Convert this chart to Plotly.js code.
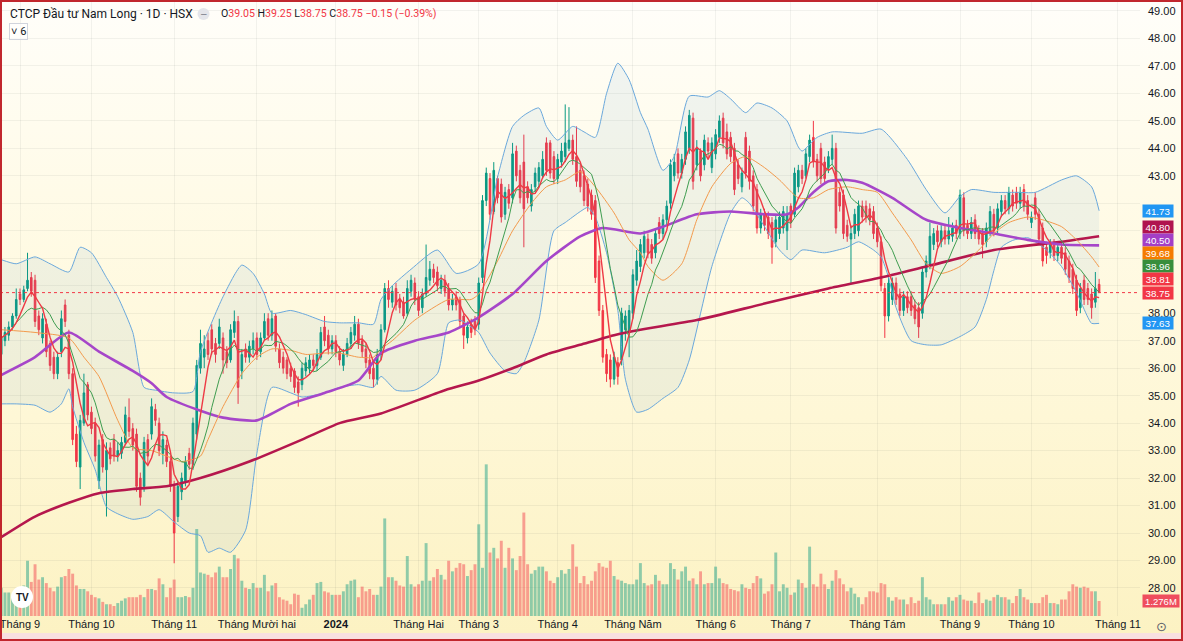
<!DOCTYPE html>
<html><head><meta charset="utf-8">
<script src="https://cdn.plot.ly/plotly-3.0.1.min.js"></script>
<style>
html,body{margin:0;padding:0;width:1183px;height:641px;overflow:hidden;}
#wrap{position:relative;width:1183px;height:641px;background:linear-gradient(to bottom,#fffefa 0%,#fffbe8 30%,#fef7d6 65%,#fcf2c2 100%);}
#chart{position:absolute;left:0;top:0;width:1183px;height:641px;}
#strip{position:absolute;left:0;top:633px;width:1183px;height:8px;background:#f8e0e0;}
#frame{position:absolute;left:0;top:0;width:1183px;height:641px;box-sizing:border-box;border:2px solid #c1272d;pointer-events:none;}
</style></head>
<body><div id="wrap"><div id="chart"></div><div id="strip"></div><div id="frame"></div></div>
<script>
// ---------- DATA ----------
const open = [
36.5,37.0,37.2,37.5,37.9,38.7,38.5,38.9,39.3,39.2,
37.9,37.1,37.6,36.9,36.4,35.8,36.6,38.3,37.2,35.8,
33.6,32.4,34.0,35.4,34.4,34.0,31.9,33.4,32.3,33.1,
33.4,32.8,32.9,33.3,34.2,33.8,33.6,32.0,31.7,33.4,
33.6,34.5,34.0,32.9,33.2,32.6,31.7,30.6,31.5,31.9,
32.9,32.5,33.6,36.0,36.4,37.0,37.4,36.9,36.9,37.1,
36.6,36.3,37.3,37.7,35.9,36.7,36.4,36.7,37.1,36.6,
37.1,37.8,37.2,37.9,36.7,36.4,36.3,36.0,35.9,35.5,
35.4,35.9,36.0,36.3,36.1,36.4,37.5,37.2,36.7,37.0,
36.6,36.1,36.5,36.9,37.2,37.6,37.0,36.7,36.3,36.0,
35.6,36.5,37.4,38.9,38.4,38.9,38.5,38.4,38.0,38.8,
39.1,38.6,38.2,38.7,39.2,39.6,39.5,38.9,39.2,38.9,
38.3,38.6,38.5,37.9,37.1,37.6,37.7,37.6,39.3,42.1,
42.9,41.7,42.9,42.7,41.6,42.5,42.2,43.9,43.2,43.5,
42.6,41.9,42.6,42.8,43.0,44.2,44.2,43.7,42.9,43.5,
43.7,44.0,44.3,43.7,43.2,43.0,42.7,42.3,42.1,39.9,
38.1,36.5,36.3,35.6,36.2,36.3,37.4,37.3,38.0,39.2,
39.7,40.2,40.7,40.5,40.2,41.3,40.9,41.4,42.0,43.0,
43.8,43.1,43.6,44.0,45.1,43.4,43.9,43.4,44.2,43.3,
43.8,44.4,45.1,44.6,44.4,44.0,43.4,42.6,44.4,43.9,
43.0,42.5,41.1,41.6,41.5,41.3,40.6,40.9,41.1,41.0,
41.9,41.6,42.6,43.2,43.0,43.7,44.4,43.6,44.0,43.5,
43.3,43.6,44.0,42.4,42.3,41.2,40.7,40.9,41.0,41.9,
41.9,41.8,41.7,41.1,40.6,38.9,37.9,38.5,39.1,38.7,
38.1,38.6,38.6,38.3,38.2,38.0,39.5,39.8,40.5,41.0,
40.6,41.0,40.7,40.8,41.2,40.9,42.2,41.2,40.9,41.4,
41.0,40.9,40.6,41.0,41.6,41.1,41.7,42.1,41.8,42.3,
42.4,42.0,42.5,42.1,41.3,42.2,41.6,41.1,40.4,40.2,
40.5,40.1,40.4,40.2,39.9,39.6,39.2,38.2,39.2,38.9,
38.7,38.4,39.05];
const high = [
37.4,37.5,37.7,38.0,38.9,38.9,39.0,40.2,39.5,39.4,
38.1,38.0,37.8,37.0,36.6,36.6,38.1,38.5,37.4,36.0,
33.9,34.3,35.8,35.5,34.6,34.2,33.4,33.6,33.3,33.3,
33.6,33.3,33.5,34.6,34.9,34.0,33.8,32.2,33.5,33.6,
34.9,34.7,34.2,33.7,33.4,32.8,31.9,31.9,32.2,32.8,
33.1,34.2,36.3,37.4,37.2,37.3,37.6,37.1,37.8,37.3,
36.8,37.6,38.1,37.9,36.7,36.9,37.0,37.3,37.3,37.3,
38.0,38.0,38.1,38.0,36.9,36.6,36.4,36.2,36.0,35.7,
36.2,36.4,36.5,36.5,36.7,37.5,37.9,37.4,37.2,37.2,
36.8,36.7,37.1,37.5,37.9,37.8,37.2,36.9,36.5,36.2,
36.7,37.6,39.1,39.2,39.0,39.1,38.7,38.6,39.2,39.4,
39.3,38.8,38.9,40.5,39.9,39.8,39.7,39.4,39.4,39.1,
38.7,38.8,38.6,38.0,37.7,37.8,37.9,39.3,42.3,43.3,
43.1,43.5,43.0,42.9,42.6,42.7,44.2,44.1,43.4,44.5,
42.8,42.7,43.3,43.5,43.9,44.4,44.3,43.9,43.8,44.2,
45.6,45.5,44.5,44.8,43.4,43.2,42.9,42.5,42.3,40.1,
38.3,36.7,36.5,36.6,36.4,38.2,38.1,38.3,39.6,40.3,
40.7,41.0,40.9,40.7,41.1,41.5,41.6,42.1,43.6,43.8,
44.0,43.8,44.8,45.4,45.3,44.3,44.0,44.5,44.4,44.4,
44.7,45.2,45.3,44.9,44.6,44.2,43.6,43.3,44.6,44.1,
43.2,42.7,41.8,41.8,41.7,41.5,41.6,41.7,41.9,41.9,
42.0,43.3,43.4,43.4,44.0,44.5,45.0,43.8,44.2,43.7,
43.9,44.5,44.2,42.6,42.5,41.4,41.2,41.8,42.1,42.1,
42.1,42.0,41.9,41.3,40.8,39.1,39.3,39.3,39.3,38.9,
38.8,38.8,38.8,38.5,38.4,39.7,40.1,41.3,41.1,41.2,
41.2,41.2,41.5,41.3,41.4,42.5,42.4,41.4,41.5,41.6,
41.2,41.1,41.3,41.9,41.8,42.0,42.3,42.3,42.6,42.5,
42.6,42.6,42.7,42.3,41.7,42.4,41.8,41.3,40.6,40.7,
40.7,40.6,40.6,40.4,40.1,39.8,39.4,39.1,39.4,39.1,
38.9,39.5,39.25];
const low = [
36.3,36.8,37.0,37.4,37.8,38.3,38.4,38.8,38.6,37.5,
37.2,36.9,36.4,35.9,35.6,35.6,36.4,37.5,35.6,33.2,
32.4,31.6,33.9,34.1,33.6,32.6,31.6,32.2,30.6,32.5,
32.6,32.6,32.7,33.2,33.5,33.0,31.5,31.0,31.5,32.5,
33.4,33.9,32.8,32.5,32.4,31.5,28.9,30.4,31.2,31.7,
32.3,32.3,33.4,35.8,36.0,36.3,36.5,36.2,36.7,35.8,
36.0,36.2,37.1,34.7,35.6,36.2,36.2,36.5,36.3,36.4,
37.0,37.0,37.0,36.6,36.0,35.8,35.6,35.5,35.1,34.6,
35.2,35.7,35.8,35.9,35.9,36.3,36.8,36.5,36.5,36.4,
36.1,35.9,36.4,36.7,37.0,36.7,36.4,36.0,35.6,35.3,
35.4,36.3,37.3,38.2,38.2,38.1,38.0,37.8,37.9,38.6,
38.3,37.9,38.0,38.6,39.0,39.1,38.8,38.7,38.6,38.1,
38.1,38.1,37.5,36.7,36.9,37.1,37.2,37.4,39.1,41.9,
41.4,41.6,42.0,41.3,41.4,41.8,42.0,42.8,42.0,40.4,
42.0,41.7,42.4,42.6,42.9,43.0,42.9,42.7,42.7,43.3,
43.5,43.9,43.4,42.6,42.4,41.9,41.7,41.4,39.1,37.9,
36.2,35.5,35.3,35.4,35.4,36.1,37.0,36.4,37.8,39.0,
39.5,40.0,40.0,39.8,40.0,40.7,40.7,41.2,41.8,42.8,
42.9,42.9,43.4,43.8,42.5,43.2,42.8,43.2,43.6,43.1,
43.6,44.2,44.0,43.6,43.5,42.3,42.7,42.4,42.9,42.5,
41.7,40.9,40.9,41.0,40.7,39.8,40.4,40.7,40.9,40.3,
41.1,41.5,42.4,42.7,42.9,43.5,43.3,42.8,42.7,42.7,
43.1,43.4,40.9,41.7,40.7,40.6,39.1,40.7,40.8,41.3,
41.3,41.2,40.7,40.4,38.8,37.1,37.7,38.3,38.3,37.9,
37.9,38.0,37.9,37.6,37.1,37.8,39.3,39.6,40.3,40.4,
40.4,40.5,40.5,40.6,40.7,40.7,40.8,40.7,40.7,40.7,
40.5,40.0,40.4,40.8,40.8,40.9,41.5,41.6,41.6,41.7,
41.8,41.8,41.7,41.4,41.1,41.4,40.5,39.7,39.8,40.0,
39.9,39.9,39.8,39.4,39.1,38.7,37.9,38.0,38.3,38.3,
37.8,38.2,38.75];
const close = [
37.1,37.3,37.5,37.9,38.5,38.5,38.85,39.2,38.8,37.7,
37.4,37.8,36.6,36.1,35.8,36.4,37.8,37.7,35.8,33.4,
32.6,34.1,35.1,34.3,33.8,32.8,33.2,32.4,33.0,32.7,
32.8,33.0,33.3,34.3,33.7,33.2,31.7,31.3,33.3,32.8,
34.6,34.1,33.0,33.4,32.6,31.7,30.0,31.7,32.0,32.6,
32.5,34.0,36.1,36.9,36.7,36.5,36.7,36.5,37.5,36.3,
36.2,37.4,37.7,35.3,36.5,36.4,36.8,37.0,36.5,37.1,
37.7,37.2,37.8,36.8,36.2,36.0,35.8,35.7,35.3,35.1,
36.0,36.2,36.3,36.1,36.5,37.3,37.0,36.7,37.0,36.6,
36.3,36.5,36.9,37.3,37.6,36.9,36.6,36.2,35.8,35.6,
36.5,37.4,38.9,38.5,38.8,38.3,38.2,37.9,38.9,39.2,
38.5,38.1,38.7,39.3,39.6,39.3,39.0,39.2,38.8,38.3,
38.5,38.3,37.7,37.2,37.5,37.3,37.4,39.1,42.1,43.1,
41.6,43.2,42.2,41.5,42.4,42.0,43.8,43.0,42.2,41.8,
42.2,42.5,43.1,43.3,43.6,43.2,43.1,42.9,43.6,43.9,
44.2,44.3,43.6,42.8,42.6,42.1,41.9,41.6,39.3,38.1,
36.4,35.8,35.6,36.4,35.7,38.0,37.9,38.1,39.4,39.9,
40.5,40.8,40.2,40.0,40.9,40.9,41.4,41.9,43.4,43.5,
43.1,43.6,44.6,45.2,42.8,44.0,43.0,44.3,43.9,44.2,
44.5,45.0,44.2,43.8,43.7,42.5,42.9,43.1,43.1,42.8,
41.9,41.1,41.6,41.2,40.9,40.4,41.4,41.5,41.7,41.6,
41.3,43.1,43.2,42.9,43.8,44.3,43.5,43.0,42.9,42.9,
43.7,44.0,41.1,41.9,40.9,40.8,40.9,41.6,41.9,41.5,
41.5,41.4,40.9,40.6,39.0,37.9,39.1,39.1,38.5,38.1,
38.6,38.2,38.1,37.8,37.5,39.5,39.9,40.8,40.9,40.6,
41.0,40.7,41.0,41.1,40.9,42.3,41.0,40.9,41.3,40.9,
40.7,40.5,41.1,41.7,41.0,41.8,42.1,41.8,42.4,41.9,
42.0,42.4,41.9,41.6,41.5,41.6,40.7,39.9,40.1,40.5,
40.1,40.4,40.0,39.6,39.3,38.9,38.1,38.9,38.5,38.5,
38.2,38.9,38.75];
// volume, millions of shares
const volume = [
2.4,2.0,2.0,1.7,1.9,2.2,2.6,4.7,2.9,4.4,
3.1,3.3,2.8,2.4,2.1,2.5,3.3,3.4,4.0,3.6,
2.6,2.3,2.3,2.1,1.8,1.6,1.5,1.2,1.0,1.0,
0.85,1.1,1.3,1.5,1.6,1.6,1.6,1.8,1.6,2.3,
2.3,2.2,3.2,2.7,1.6,2.4,3.1,1.6,1.6,1.7,
1.6,2.4,7.4,3.7,3.6,3.5,3.3,3.7,4.2,3.3,
3.3,4.0,5.2,4.9,3.0,2.4,2.3,2.8,2.4,2.4,
3.5,2.1,2.6,2.8,1.6,1.4,1.3,1.0,1.9,1.8,
0.7,1.0,1.4,1.8,2.8,2.9,2.1,2.0,1.8,1.8,
1.8,2.1,2.7,3.0,3.1,1.6,2.5,2.1,2.3,1.8,
1.8,2.5,8.3,3.3,3.3,3.0,2.6,2.5,5.1,2.7,
2.5,2.7,3.0,6.2,3.0,3.3,4.0,3.5,3.1,4.7,
3.8,4.1,4.5,4.4,3.4,3.9,4.4,7.8,4.1,12.9,
5.4,5.8,4.9,6.4,4.1,5.8,4.9,3.9,5.1,8.8,
4.4,3.6,3.9,4.2,4.2,3.8,3.0,2.8,3.3,3.9,
3.6,4.0,6.1,4.2,2.8,3.4,2.7,3.0,3.8,4.5,
4.2,4.1,4.7,3.4,3.1,3.0,2.8,2.7,2.7,3.1,
4.5,2.8,2.6,2.7,3.5,3.0,2.7,2.7,4.5,4.0,
3.1,3.8,4.2,3.0,3.2,2.7,3.8,2.7,2.8,2.8,
4.2,3.2,2.8,2.7,2.3,2.2,2.1,2.7,2.4,2.3,
2.8,3.4,3.2,1.9,2.1,2.7,5.4,2.1,2.7,2.4,
1.8,2.0,3.1,2.8,2.4,5.9,2.7,2.5,3.6,2.7,
2.3,3.0,3.9,3.2,2.7,2.1,2.4,1.9,1.6,1.0,
1.6,2.1,2.1,2.0,2.8,2.7,1.6,1.3,1.6,1.4,
1.4,1.0,1.6,1.1,1.3,3.3,1.6,1.4,1.0,1.0,
1.0,1.0,1.6,1.3,1.6,1.8,1.4,1.3,1.3,1.1,
2.0,1.1,1.4,1.3,1.6,1.8,1.6,1.6,1.4,1.1,
1.7,2.3,1.6,1.4,1.1,1.1,1.1,1.6,1.8,1.1,
1.1,1.0,1.4,1.4,2.1,2.7,2.5,2.4,2.5,2.4,
2.1,2.1,1.276];

// indicator lines (bar index, value)
const ma200Idx = [0,9,18,26,35,44,53,66,80,90,101,118,127,136,145,154,163,170,185,203,220,234,246,264,282,292];
const ma200Val = [29.85,30.6,31.1,31.45,31.6,31.7,32.0,32.6,33.4,34.0,34.35,35.2,35.55,36.0,36.5,36.85,37.2,37.4,37.75,38.35,38.9,39.3,39.7,40.3,40.6,40.8];
const ma50Idx = [0,9,18,26,35,40,44,53,59,68,77,86,95,101,110,119,127,136,145,154,160,170,176,185,194,203,209,212,216,220,225,229,237,246,255,264,273,282,292];
const ma50Val = [35.75,36.4,37.3,36.6,35.9,35.45,34.95,34.45,34.2,34.1,34.7,35.1,35.55,36.55,37.0,37.3,37.85,38.7,39.9,40.8,41.1,40.9,41.15,41.6,41.7,41.6,41.6,41.85,42.4,42.8,42.85,42.75,42.2,41.4,41.1,40.9,40.67,40.5,40.47];
const ma20Idx = [0,9,18,22,26,31,35,40,44,48,53,55,59,64,68,72,77,81,86,90,95,99,101,104,110,119,125,127,132,136,141,145,150,154,158,163,167,170,172,176,181,185,189,194,198,203,207,212,216,220,225,229,233,237,242,246,250,255,260,264,268,273,277,282,286,290,292];
const ma20Val = [37.4,37.3,37.1,36.4,35.7,34.1,33.1,33.0,32.8,32.6,32.8,33.4,34.6,35.8,36.4,36.7,36.65,36.5,36.55,36.55,36.4,36.4,36.7,37.0,37.75,38.5,38.5,38.7,39.9,41.0,42.0,42.6,42.85,43.15,42.6,41.65,40.67,40.2,39.7,39.2,39.8,41.4,42.6,43.45,43.7,43.3,42.85,42.2,42.2,42.5,42.6,42.5,42.4,41.65,40.67,39.8,39.45,39.7,40.3,40.9,41.3,41.5,41.4,41.15,40.67,40.05,39.68];
const bbUpIdx = [0,4,9,13,18,21,24,28,31,35,38,41,46,51,53,59,64,67,70,72,77,81,86,90,95,99,101,104,109,116,121,127,132,136,139,143,145,148,152,155,158,161,164,167,170,172,176,179,183,188,191,194,198,201,205,209,212,213,217,221,229,234,241,246,251,255,258,264,270,275,282,286,290,292];
const bbUpVal = [39.95,39.8,40.05,39.8,39.5,40.4,40.2,39.3,38.6,37.3,35.3,35.2,35.1,35.15,36.6,38.6,39.75,39.45,38.7,38.0,38.1,37.95,37.7,37.65,37.65,37.6,38.5,39.0,39.6,40.3,39.45,39.8,42.95,44.8,45.2,45.47,44.8,44.3,44.8,44.6,44.4,46.0,47.1,46.5,45.3,44.7,43.2,43.7,45.9,45.87,46.1,45.8,45.3,45.65,45.47,45.0,44.05,43.9,44.4,44.6,44.55,44.7,43.6,42.5,41.65,42.25,42.5,42.4,42.4,42.4,42.85,43.0,42.6,41.73];
const bbLoIdx = [0,4,9,13,16,18,19,22,25,28,31,35,39,42,46,50,53,55,58,61,65,68,72,77,80,86,90,95,99,101,105,110,116,119,122,125,127,130,134,137,139,143,147,150,154,156,158,161,164,166,169,172,176,180,183,186,189,194,197,199,203,207,210,213,219,225,228,232,234,236,238,242,246,250,255,259,262,264,266,269,273,275,278,282,286,289,290,292];
const bbLoVal = [34.7,34.7,34.65,34.4,34.7,35.25,34.6,33.3,32.3,30.95,30.7,30.5,30.6,30.85,30.4,30.0,29.9,29.3,29.45,29.3,30.1,32.9,35.3,35.1,34.95,35.1,35.3,35.4,35.3,35.7,35.2,35.2,35.8,37.65,37.75,37.5,37.3,36.55,35.9,35.8,36.2,37.75,41.0,41.3,41.7,41.85,41.5,40.2,38.1,35.6,34.4,34.5,34.9,35.3,36.3,38.0,39.7,41.65,42.2,42.0,41.15,40.3,39.95,40.3,40.2,40.4,40.6,40.3,40.05,39.3,38.2,37.0,36.85,36.85,37.15,37.5,38.5,39.55,40.4,40.65,40.75,40.6,40.3,39.7,38.75,37.85,37.63,37.63];

// time axis labels (bar index of each month's first session)
const monthStartIdx = [5,24,46,68,89,111,127,148,168,190,210,233,255,274,297];
const monthLabels = ["Tháng 9","Tháng 10","Tháng 11","Tháng Mười hai","<b>2024</b>","Tháng Hai","Tháng 3","Tháng 4","Tháng Năm","Tháng 6","Tháng 7","Tháng Tám","Tháng 9","Tháng 10","Tháng 11"];
const priceTicks = [28,29,30,31,32,33,34,35,36,37,38,39,40,41,42,43,44,45,46,47,48,49];

// last values shown in the right-hand price tags
const tagValues = [41.73, 40.80, 40.50, 39.68, 38.96, 38.81, 38.75, 37.63];

// ---------- STYLE ----------
const tagColors = ['#2196f3','#b0144e','#a33fc6','#f57c00','#388e3c','#f23645','#f23645','#2196f3'];
const UP = '#089981', DOWN = '#f23645';
const GRID = 'rgba(42,46,57,0.06)';
const W = 1183, H = 641, ML = 0, MR = 43, MT = 0, MB = 25;
const X_MIN = -0.32, X_MAX = 302.87;
const Y_MIN = 26.98, Y_MAX = 49.40;
const VOL_MAX = 52.4;
const FONT = '"Liberation Sans", Arial, sans-serif';
const HFONT = 'Roboto, "Liberation Sans", Arial, sans-serif';

const N = close.length;
const idx = close.map((_, i) => i);
function sma(arr, n) {
  return arr.map((_, i) => { const s = Math.max(0, i - n + 1); let t = 0; for (let k = s; k <= i; k++) t += arr[k]; return t / (i - s + 1); });
}
const ma5 = sma(close, 5), ma10 = sma(close, 10);
const volColors = close.map((c, i) => c >= open[i] ? 'rgba(8,153,129,0.45)' : 'rgba(242,54,69,0.45)');

const traces = [
  {type:'bar', x:idx, y:volume, xaxis:'x', yaxis:'y', marker:{color:volColors, line:{width:0}}, hoverinfo:'skip'},
  {type:'scatter', mode:'lines', x:bbLoIdx, y:bbLoVal, xaxis:'x', yaxis:'y2', line:{color:'#6aa8dc', width:1, shape:'spline', smoothing:0.6}, hoverinfo:'skip'},
  {type:'scatter', mode:'lines', x:bbUpIdx, y:bbUpVal, xaxis:'x', yaxis:'y2', fill:'tonexty', fillcolor:'rgba(70,140,210,0.08)', line:{color:'#6aa8dc', width:1, shape:'spline', smoothing:0.6}, hoverinfo:'skip'},
  {type:'scatter', mode:'lines', x:ma200Idx, y:ma200Val, xaxis:'x', yaxis:'y2', line:{color:'#b5174d', width:2.6, shape:'spline', smoothing:0.6}, hoverinfo:'skip'},
  {type:'scatter', mode:'lines', x:ma50Idx, y:ma50Val, xaxis:'x', yaxis:'y2', line:{color:'#a646c9', width:2.6, shape:'spline', smoothing:0.6}, hoverinfo:'skip'},
  {type:'candlestick', x:idx, open:open, high:high, low:low, close:close, xaxis:'x', yaxis:'y2',
   increasing:{line:{color:UP, width:1}, fillcolor:UP}, decreasing:{line:{color:DOWN, width:1}, fillcolor:DOWN}, whiskerwidth:0, hoverinfo:'skip'},
  {type:'scatter', mode:'lines', x:ma20Idx, y:ma20Val, xaxis:'x', yaxis:'y2', line:{color:'#f39a4c', width:1, shape:'spline', smoothing:0.6}, hoverinfo:'skip'},
  {type:'scatter', mode:'lines', x:idx, y:ma10, xaxis:'x', yaxis:'y2', line:{color:'#3f9d50', width:1}, hoverinfo:'skip'},
  {type:'scatter', mode:'lines', x:idx, y:ma5, xaxis:'x', yaxis:'y2', line:{color:'#ee3a45', width:1.4}, hoverinfo:'skip'}
];

// price tags stacked away from the last-price tag
const plotH = H - MT - MB, plotW = W - ML - MR;
const ppu = plotH / (Y_MAX - Y_MIN);
const lastClose = close[N - 1], prevClose = close[N - 2];
const rawPx = tagValues.map(v => (Y_MAX - v) * ppu);
const anchor = tagValues.indexOf(lastClose);
const pos = rawPx.slice();
const LH = 13.2;
for (let i = anchor - 1; i >= 0; i--) pos[i] = Math.min(rawPx[i], pos[i + 1] - LH);
for (let i = anchor + 1; i < pos.length; i++) pos[i] = Math.max(rawPx[i], pos[i - 1] + LH);

// axis tick labels that sit under a tag are covered in the reference
const tickText = priceTicks.map(v => {
  const py = (Y_MAX - v) * ppu;
  return pos.some(p => Math.abs(p - py) < 7.5) ? '' : v.toFixed(2);
});

const annotations = tagValues.map((v, i) => ({
  xref:'paper', x:1, xanchor:'left', xshift:2, yref:'y2', y:v, yanchor:'middle', yshift: rawPx[i] - pos[i],
  text: v.toFixed(2), showarrow:false, bgcolor: tagColors[i], borderpad:0, width:30, height:12,
  font:{color:'#ffffff', size:9.8, family:FONT}
}));
annotations.push({xref:'paper', x:1, xanchor:'left', xshift:2, yref:'y', y:volume[N-1], yanchor:'middle',
  text: volume[N-1].toFixed(3) + 'M', showarrow:false, bgcolor:'#ef4d5e', borderpad:0, width:36, height:12, font:{color:'#ffffff', size:9.5, family:FONT}});

const px2x = p => (p - ML) / plotW;
const py2y = p => 1 - (p - MT) / plotH;
const chg = lastClose - prevClose, pct = chg / prevClose * 100;
const red = s => '<span style="color:#f23645">' + s + '</span>';
const fmtSigned = v => (v < 0 ? '\u2212' : '+') + Math.abs(v).toFixed(2);
annotations.push({xref:'paper', x:px2x(8), xanchor:'left', yref:'paper', y:py2y(14), yanchor:'middle', showarrow:false,
  text:'CTCP Đầu tư Nam Long · 1D · HSX', font:{size:12, color:'#131722', family:HFONT}});
annotations.push({xref:'paper', x:px2x(219), xanchor:'left', yref:'paper', y:py2y(14), yanchor:'middle', showarrow:false,
  text:'O' + red(open[N-1].toFixed(2)) + ' H' + red(high[N-1].toFixed(2)) + ' L' + red(low[N-1].toFixed(2)) + ' C' + red(lastClose.toFixed(2)) + ' ' + red(fmtSigned(chg) + ' (' + fmtSigned(pct) + '%)'),
  font:{size:10.6, color:'#131722', family:HFONT}});
annotations.push({xref:'paper', x:px2x(203.5), xanchor:'center', yref:'paper', y:py2y(14), yanchor:'middle', showarrow:false,
  text:'–', font:{size:10, color:'#787b86', family:FONT}});
annotations.push({xref:'paper', x:px2x(9), xanchor:'left', yref:'paper', y:py2y(31), yanchor:'middle', showarrow:false,
  text:'˅ 6', bordercolor:'#d1d4dc', borderwidth:1, borderpad:1, bgcolor:'rgba(255,255,255,0.6)', font:{size:11, color:'#131722', family:HFONT}});
annotations.push({xref:'paper', x:px2x(22), xanchor:'center', yref:'paper', y:py2y(597), yanchor:'middle', showarrow:false,
  text:'<b>TV</b>', font:{size:10, color:'#131722', family:FONT}});
annotations.push({xref:'paper', x:px2x(1161), xanchor:'center', yref:'paper', y:py2y(626), yanchor:'middle', showarrow:false,
  text:'⊙', font:{size:13, color:'#5d606b', family:'DejaVu Sans'}});

const shapes = [
  {type:'line', xref:'paper', x0:0, x1:1, yref:'y2', y0:lastClose, y1:lastClose, line:{color:'#f23645', width:1, dash:'dot'}},
  {type:'circle', xref:'paper', yref:'paper', x0:px2x(197.5), x1:px2x(209.5), y0:py2y(20), y1:py2y(8), fillcolor:'#e4e5ea', line:{width:0}},
  {type:'circle', xref:'paper', yref:'paper', x0:px2x(11), x1:px2x(33), y0:py2y(608), y1:py2y(586), fillcolor:'#ffffff', line:{width:0}}
];

const layout = {
  width:W, height:H, margin:{l:ML, r:MR, t:MT, b:MB},
  paper_bgcolor:'rgba(0,0,0,0)', plot_bgcolor:'rgba(0,0,0,0)',
  showlegend:false, font:{family:FONT, color:'#131722'},
  boxgap:0.4, bargap:0.22,
  xaxis:{type:'linear', range:[X_MIN, X_MAX], rangeslider:{visible:false}, tickmode:'array', tickvals:monthStartIdx, ticktext:monthLabels,
    ticklabeloverflow:'allow', showgrid:true, gridcolor:GRID, zeroline:false, showline:false, ticks:'', tickfont:{size:11, color:'#131722'}, fixedrange:true},
  yaxis:{domain:[0,1], range:[0, VOL_MAX], visible:false, fixedrange:true},
  yaxis2:{overlaying:'y', side:'right', anchor:'x', range:[Y_MIN, Y_MAX], tickmode:'array', tickvals:priceTicks, ticktext:tickText,
    showgrid:true, gridcolor:GRID, zeroline:false, showline:false, ticks:'', ticklabelstandoff:7, tickfont:{size:11, color:'#131722'}, fixedrange:true},
  shapes:shapes, annotations:annotations
};

Plotly.newPlot('chart', traces, layout, {staticPlot:true, displayModeBar:false});
</script>
</body></html>
